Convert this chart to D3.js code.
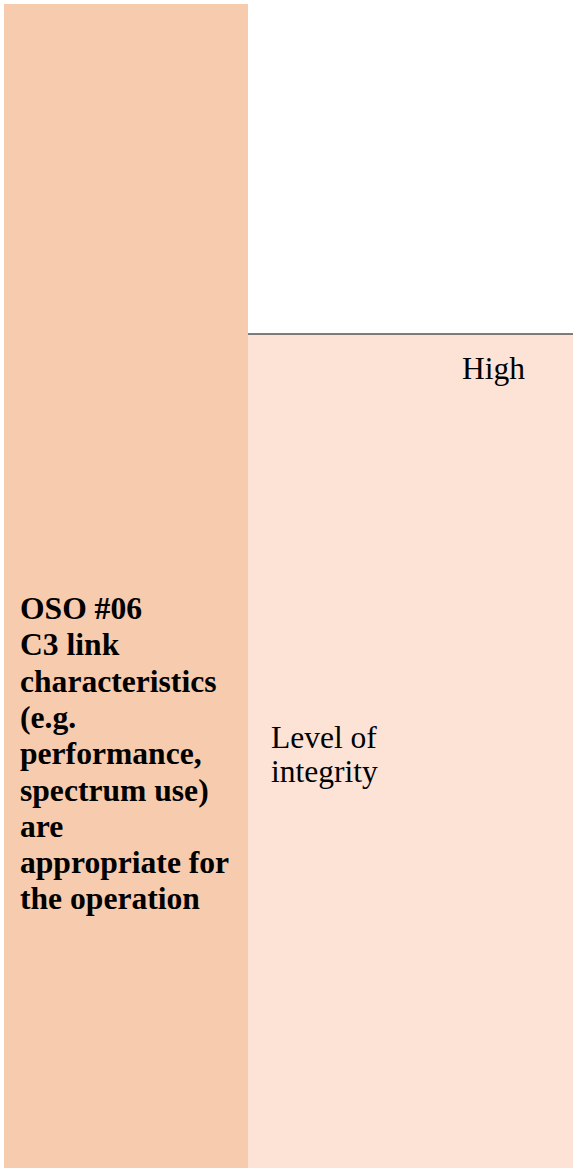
<!DOCTYPE html>
<html>
<head>
<meta charset="utf-8">
<script src="https://cdn.jsdelivr.net/npm/d3@7"></script>
<style>
  html, body { margin: 0; padding: 0; background: #fff; }
  svg { display: block; }
</style>
</head>
<body>
<div id="wrapper"></div>
<script>
// table content
const headerLines = ['OSO #06', 'C3 link', 'characteristics', '(e.g.', 'performance,', 'spectrum use)', 'are', 'appropriate for', 'the operation'];
const levelLines = ['Level of', 'integrity'];
const columnTitles = ['High'];

const width = 573;
const height = 1171;

const svg = d3.select('#wrapper')
  .append('svg')
  .attr('width', width)
  .attr('height', height);

// column / row positions
const x = d3.scaleOrdinal().domain(['head', 'body', 'end']).range([4, 248, 573]);
const y = d3.scaleOrdinal().domain(['top', 'rule', 'bottom']).range([4, 334, 1168]);

// left header cell
svg.append('rect')
  .attr('x', x('head'))
  .attr('y', y('top'))
  .attr('width', x('body') - x('head'))
  .attr('height', y('bottom') - y('top'))
  .attr('fill', '#f7cbad');

// right body cell
svg.append('rect')
  .attr('x', x('body'))
  .attr('y', y('rule'))
  .attr('width', x('end') - x('body'))
  .attr('height', y('bottom') - y('rule'))
  .attr('fill', '#fce3d6');

svg.append('line')
  .attr('x1', x('body'))
  .attr('x2', x('end'))
  .attr('y1', y('rule'))
  .attr('y2', y('rule'))
  .attr('stroke', '#555')
  .attr('stroke-width', 1.5);

const lineStep = 36.3;
const serif = '"Liberation Serif", "Times New Roman", serif';

svg.append('g')
  .selectAll('text')
  .data(headerLines)
  .enter()
  .append('text')
  .attr('x', 20)
  .attr('y', (d, i) => 619 + i * lineStep)
  .attr('font-family', serif)
  .attr('font-weight', 'bold')
  .attr('font-size', 31.6)
  .attr('fill', '#000')
  .text(d => d);

svg.append('g')
  .selectAll('text')
  .data(levelLines)
  .enter()
  .append('text')
  .attr('x', 271)
  .attr('y', (d, i) => 748 + i * 34)
  .attr('font-family', serif)
  .attr('font-size', 31.5)
  .attr('fill', '#000')
  .text(d => d);

svg.append('g')
  .selectAll('text')
  .data(columnTitles)
  .enter()
  .append('text')
  .attr('x', 462)
  .attr('y', 379)
  .attr('font-family', serif)
  .attr('font-size', 31.5)
  .attr('fill', '#000')
  .text(d => d);
</script>
</body>
</html>
